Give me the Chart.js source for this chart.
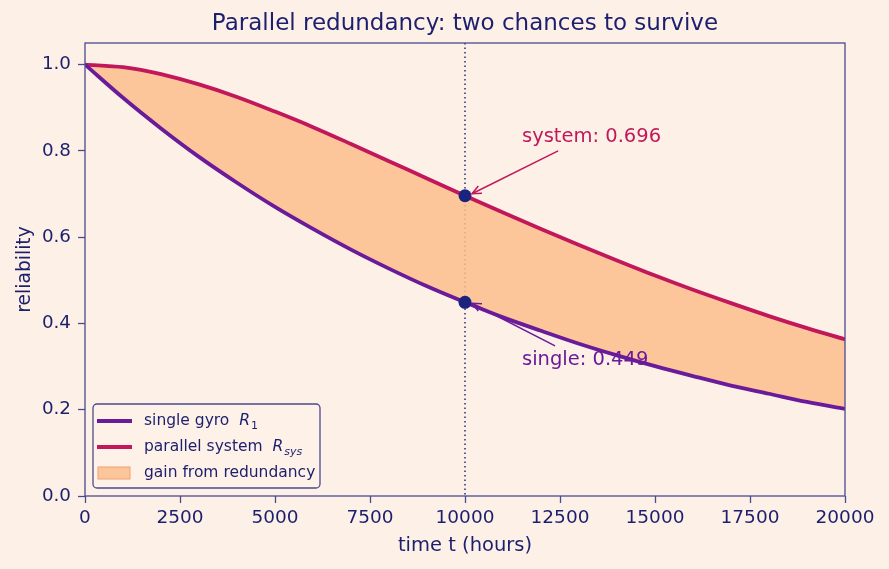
<!DOCTYPE html>
<html><head><meta charset="utf-8">
<script src="https://cdn.jsdelivr.net/npm/chart.js@4.4.1/dist/chart.umd.min.js"></script>
<style>html,body{margin:0;padding:0;background:#fdf1e7;}#wrap{width:889px;height:569px;}</style>
</head><body><div id="wrap"><canvas id="c" width="889" height="569"></canvas></div>
<script>
const hours = [0,1000,2000,3000,4000,5000,6000,7000,8000,9000,10000,11000,12000,13000,14000,15000,16000,17000,18000,19000,20000];
const singleR1 = [1.000,0.923,0.852,0.786,0.726,0.670,0.619,0.571,0.527,0.486,0.449,0.414,0.383,0.353,0.326,0.301,0.278,0.256,0.237,0.218,0.202];
const systemRsys = [1.000,0.994,0.978,0.954,0.925,0.891,0.855,0.816,0.776,0.736,0.696,0.657,0.619,0.582,0.546,0.511,0.478,0.447,0.417,0.389,0.363];
const markT = 10000;
const markValues = [0.696, 0.449];
const xTicks = [0,2500,5000,7500,10000,12500,15000,17500,20000];
const yTicks = [0.0,0.2,0.4,0.6,0.8,1.0];
const labels = ['single gyro', 'parallel system', 'gain from redundancy'];
const annoText = ['system: 0.696', 'single: 0.449'];

const NAVY = '#1c1f6e', FRAME = '#4a4a8e', PURPLE = '#6a1b9a', CRIMSON = '#c2185b', FILL = 'rgba(253,190,140,0.85)', DOT = '#1a237e';
const FONT = 'DejaVu Sans';

const pts = (ys) => hours.map((h,i)=>({x:h,y:ys[i]}));

const decor = {
  id:'decor',
  beforeDatasetsDraw(chart){
    const {ctx, chartArea:a, scales:{x}} = chart;
    ctx.save();
    ctx.strokeStyle = NAVY; ctx.lineWidth = 1.4; ctx.setLineDash([1.5,3]);
    const px = x.getPixelForValue(markT);
    ctx.beginPath(); ctx.moveTo(px,a.top); ctx.lineTo(px,a.bottom); ctx.stroke();
    ctx.restore();
  },
  afterDraw(chart){
    const {ctx, chartArea:a, scales:{x,y}} = chart;
    ctx.save();
    ctx.strokeStyle = FRAME; ctx.lineWidth = 1.3;
    ctx.strokeRect(a.left, a.top, a.right-a.left, a.bottom-a.top);
    ctx.fillStyle = NAVY; ctx.font = '23px "'+FONT+'"'; ctx.textAlign='center'; ctx.textBaseline='middle';
    ctx.fillText('Parallel redundancy: two chances to survive', (a.left+a.right)/2, 24);
    function arrow(x0,y0,x1,y1,col){
      ctx.strokeStyle=col; ctx.lineWidth=1.5; ctx.setLineDash([]);
      ctx.beginPath(); ctx.moveTo(x0,y0); ctx.lineTo(x1,y1); ctx.stroke();
      const ang=Math.atan2(y1-y0,x1-x0), L=10, w=0.42;
      ctx.beginPath();
      ctx.moveTo(x1-L*Math.cos(ang-w), y1-L*Math.sin(ang-w));
      ctx.lineTo(x1,y1);
      ctx.lineTo(x1-L*Math.cos(ang+w), y1-L*Math.sin(ang+w));
      ctx.stroke();
    }
    const px = x.getPixelForValue(markT);
    ctx.font = '19.5px "'+FONT+'"'; ctx.textAlign='left'; ctx.textBaseline='middle';
    ctx.fillStyle = CRIMSON;
    ctx.fillText(annoText[0], x.getPixelForValue(11500), y.getPixelForValue(0.832));
    arrow(x.getPixelForValue(12450), y.getPixelForValue(0.800), px+7, y.getPixelForValue(markValues[0])-2, CRIMSON);
    ctx.fillStyle = PURPLE;
    arrow(x.getPixelForValue(12370), y.getPixelForValue(0.348), px+7, y.getPixelForValue(markValues[1])+1, PURPLE);
    ctx.fillText(annoText[1], x.getPixelForValue(11500), y.getPixelForValue(0.315));
    // legend
    const lx = a.left+8, ly = 404, lw = 227, lh = 84;
    ctx.fillStyle='rgba(253,241,231,0.85)'; ctx.strokeStyle=FRAME; ctx.lineWidth=1.3;
    ctx.beginPath(); ctx.roundRect(lx,ly,lw,lh,4); ctx.fill(); ctx.stroke();
    const rows=[ly+17, ly+43, ly+69];
    ctx.lineWidth=3.8;
    ctx.strokeStyle=PURPLE; ctx.beginPath(); ctx.moveTo(lx+4,rows[0]); ctx.lineTo(lx+39,rows[0]); ctx.stroke();
    ctx.strokeStyle=CRIMSON; ctx.beginPath(); ctx.moveTo(lx+4,rows[1]); ctx.lineTo(lx+39,rows[1]); ctx.stroke();
    ctx.fillStyle=FILL; ctx.fillRect(lx+5,rows[2]-6,32,12);
    ctx.strokeStyle='#f0a070'; ctx.lineWidth=1; ctx.strokeRect(lx+5,rows[2]-6,32,12);
    ctx.fillStyle=NAVY; ctx.textBaseline='middle';
    const base='15.5px "'+FONT+'"';
    function withSub(text, sub, yy){
      ctx.font=base; ctx.fillText(text, lx+51, yy);
      let xx = lx+51+ctx.measureText(text+'  ').width;
      ctx.font='italic '+base; ctx.fillText('R', xx, yy);
      xx += ctx.measureText('R').width+1;
      ctx.font=(sub==='sys'?'italic ':'')+'11px "'+FONT+'"'; ctx.fillText(sub, xx, yy+5);
    }
    withSub(labels[0],'1',rows[0]);
    withSub(labels[1],'sys',rows[1]);
    ctx.font=base; ctx.fillText(labels[2], lx+51, rows[2]);
    ctx.restore();
  }
};

new Chart(document.getElementById('c'), {
  type:'line',
  data:{datasets:[
    {label:labels[0], data:pts(singleR1), borderColor:PURPLE, borderWidth:3.8, pointRadius:0, fill:false, cubicInterpolationMode:'monotone', order:1},
    {label:labels[1], data:pts(systemRsys), borderColor:CRIMSON, borderWidth:3.8, pointRadius:0, fill:{target:0}, backgroundColor:FILL, cubicInterpolationMode:'monotone', order:2},
    {label:'marks', data:markValues.map(v=>({x:markT,y:v})), showLine:false, pointRadius:6.5, pointBackgroundColor:DOT, pointBorderColor:DOT, borderWidth:0, order:0}
  ]},
  options:{
    responsive:false, animation:false,
    layout:{padding:{top:43,right:44,left:0,bottom:0}},
    plugins:{legend:{display:false}, tooltip:{enabled:false}, title:{display:false}},
    scales:{
      x:{type:'linear', min:0, max:20000,
        afterBuildTicks:s=>{s.ticks=xTicks.map(v=>({value:v}));},
        afterFit:s=>{s.height=73;},
        border:{display:false},
        grid:{drawOnChartArea:false, drawTicks:true, tickLength:7, tickWidth:1.3, color:FRAME},
        ticks:{color:NAVY, font:{family:FONT,size:18.5}, padding:4, maxRotation:0, autoSkip:false, callback:v=>String(v)},
        title:{display:true, text:'time t (hours)', color:NAVY, font:{family:FONT,size:19.5}, padding:{top:11,bottom:11}}
      },
      y:{min:0, max:1.05,
        afterBuildTicks:s=>{s.ticks=yTicks.map(v=>({value:v}));},
        afterFit:s=>{s.width=85;},
        border:{display:false},
        grid:{drawOnChartArea:false, drawTicks:true, tickLength:7, tickWidth:1.3, color:FRAME},
        ticks:{color:NAVY, font:{family:FONT,size:18.3}, padding:7, callback:v=>Number(v).toFixed(1)},
        title:{display:true, text:'reliability', color:NAVY, font:{family:FONT,size:18.7}, padding:{top:14,bottom:14}}
      }
    }
  },
  plugins:[decor]
});
</script></body></html>
